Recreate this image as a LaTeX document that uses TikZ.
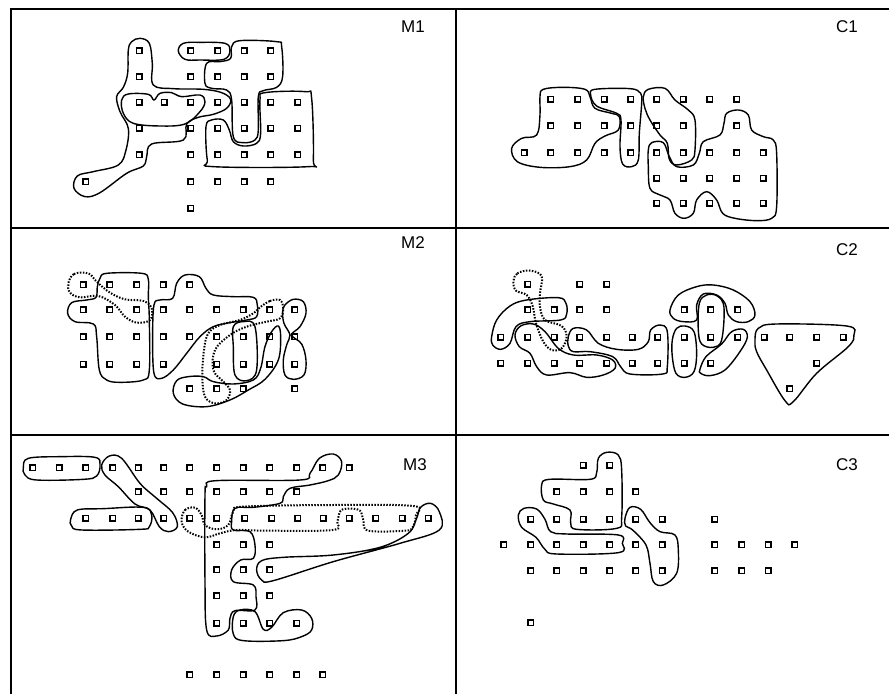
\documentclass[tikz,border=0pt]{standalone}
\usepackage{fontspec}
\setmainfont{Liberation Sans}
\usepackage{tikz}

\begin{document}
\begin{tikzpicture}[x=1pt, y=-1pt,
  frame/.style={line width=1.8pt},
  sq/.style={draw, line width=1.4pt, minimum size=5.6pt, inner sep=0pt},
  blob/.style={line width=1.4pt},
  dots/.style={line width=2pt, dash pattern=on 1.5pt off 1.5pt},
  lab/.style={font=\fontsize{17}{20}\selectfont}]
\useasboundingbox (0,0) rectangle (889,694);
% frame
\draw[frame] (11,694) -- (11,9) -- (889,9);
\draw[frame] (456,9) -- (456,694);
\draw[frame] (11,228) -- (889,228);
\draw[frame] (11,435) -- (889,435);
\node[lab] (m1) at (413,27) {M1};
\node[lab] (c1) at (847,27) {C1};
\node[lab] (m2) at (413,243) {M2};
\node[lab] (c2) at (847,250) {C2};
\node[lab] (m3) at (415,465) {M3};
\node[lab] (c3) at (847,465) {C3};

% M1
\begin{scope}[xshift=0pt, yshift=0pt, x=0.3333pt, y=-0.3333pt]
\foreach \y/\xs in {153/{418,573,653,733,813}, 230/{418,573,653,733,813},
    307/{418,493,573,653,733,813,893}, 385/{418,573,653,733,813,893},
    465/{418,573,653,733,813,893}, 545/{258,573,653,733,813}, 625/{573}}
  \foreach \x in \xs \node[sq] (m1-\x-\y) at (\x,\y) {};
\draw[blob] plot[smooth cycle, tension=0.6] coordinates {(385,150) (395,125) (420,115) (448,130) (457,190) (460,255) (520,266) (610,268) (665,278) (692,298) (680,325) (640,343) (595,352) (560,372) (550,420) (455,432) (440,470) (430,498) (380,520) (300,578) (255,590) (222,565) (232,528) (280,515) (355,495) (378,450) (385,385) (360,335) (350,290) (370,262) (383,220)};
\draw[blob] plot[smooth cycle, tension=0.6] coordinates {(365,300) (385,282) (445,283) (462,300) (480,280) (515,278) (545,290) (600,285) (615,305) (600,335) (555,372) (480,378) (400,370) (370,340)};
\draw[blob] plot[smooth cycle, tension=0.6] coordinates {(535,153) (550,130) (600,127) (675,130) (690,152) (672,178) (600,180) (555,178)};
\draw[blob] plot[smooth cycle, tension=0.6] coordinates {(620,190) (615,250) (635,265) (680,270) (695,300) (700,410) (730,428) (765,420) (775,390) (775,290) (790,272) (830,262) (848,230) (845,140) (830,125) (720,122) (695,140) (692,175) (660,185)};
\draw[blob] plot[smooth cycle, tension=0.6] coordinates {(780,300) (795,278) (915,275) (935,295) (940,480) (925,500) (640,500) (622,480) (618,380) (635,360) (670,360) (688,390) (700,425) (730,438) (770,430) (782,400)};
\end{scope}

% C1
\begin{scope}[xshift=430pt, yshift=0pt, x=0.3333pt, y=-0.3333pt]
\foreach \y/\xs in {298/{363,443,523,603,680,760,840,920}, 378/{363,443,523,603,680,760,920},
    458/{283,363,443,523,603,680,760,840,920,1000}, 535/{680,760,840,920,1000},
    610/{680,760,840,920,1000}}
  \foreach \x in \xs \node[sq] (c1-\x-\y) at (\x,\y) {};
\draw[blob] plot[smooth cycle, tension=0.6] coordinates {(330,290) (340,268) (400,262) (465,268) (480,290) (495,325) (545,340) (568,350) (565,390) (525,408) (495,430) (470,480) (420,500) (330,502) (262,485) (245,445) (275,415) (320,405) (330,345)};
\draw[blob] plot[smooth cycle, tension=0.6] coordinates {(482,285) (495,268) (600,266) (632,280) (635,310) (628,400) (625,480) (605,500) (578,492) (570,440) (573,360) (560,340) (500,318)};
\draw[blob] plot[smooth cycle, tension=0.6] coordinates {(640,290) (655,268) (705,265) (735,300) (775,330) (795,360) (795,450) (785,480) (740,495) (718,478) (712,430) (690,405) (660,360) (645,325)};
\draw[blob] plot[smooth cycle, tension=0.6] coordinates {(655,450) (665,428) (700,428) (718,470) (740,500) (790,495) (808,460) (820,425) (870,405) (882,370) (890,340) (925,330) (955,345) (965,390) (1000,410) (1030,420) (1040,460) (1040,620) (1025,655) (980,662) (915,655) (878,640) (860,600) (830,575) (800,600) (790,640) (762,655) (735,640) (720,600) (690,585) (660,565) (655,500)};
\end{scope}

% M2
\begin{scope}[xshift=0pt, yshift=-220pt, x=0.3333pt, y=-0.3333pt]
\foreach \y/\xs in {195/{250,330,410,490,570}, 270/{250,330,410,490,570,650,730,810,885},
    350/{250,330,410,490,570,650,730,810,885}, 433/{250,330,410,490,650,730,810,885},
    507/{570,650,730,885}}
  \foreach \x in \xs \node[sq] (m2-\x-\y) at (\x,\y) {};
\draw[blob] plot[smooth cycle, tension=0.6] coordinates {(300,175) (320,160) (425,160) (445,178) (445,230) (448,300) (448,450) (430,480) (360,487) (320,480) (298,450) (290,350) (280,312) (225,305) (203,280) (215,248) (260,240) (288,232) (292,200)};
\draw[blob] plot[smooth cycle, tension=0.6] coordinates {(462,255) (480,240) (518,235) (530,190) (555,165) (598,170) (618,205) (640,225) (700,230) (760,232) (772,255) (770,290) (740,300) (690,308) (640,320) (600,350) (560,400) (520,450) (485,475) (462,460) (458,350)};
\draw[blob] plot[smooth cycle, tension=0.6] coordinates {(700,320) (730,305) (765,320) (770,450) (740,482) (705,465) (700,380)};
\draw[blob] plot[smooth cycle, tension=0.6] coordinates {(520,520) (530,482) (565,470) (610,470) (640,485) (700,492) (760,480) (782,445) (795,380) (815,335) (835,318) (842,350) (835,420) (795,478) (745,510) (690,540) (620,560) (548,552)};
\draw[blob] plot[smooth cycle, tension=0.6] coordinates {(855,255) (880,238) (910,245) (918,280) (900,320) (875,345) (905,372) (918,420) (912,465) (880,478) (855,465) (850,420) (860,375) (870,345) (852,310) (848,275)};
\draw[dots] plot[smooth cycle, tension=0.6] coordinates {(205,190) (222,162) (265,160) (290,185) (330,218) (375,238) (430,243) (455,265) (450,300) (410,308) (375,290) (345,255) (295,228) (240,232) (210,218)};
\draw[dots] plot[smooth cycle, tension=0.6] coordinates {(780,262) (810,243) (840,240) (850,265) (840,295) (800,305) (740,320) (690,345) (645,390) (640,450) (670,485) (690,510) (680,540) (645,550) (615,530) (607,470) (612,390) (625,340) (660,315) (720,300) (760,280)};
\end{scope}

% C2
\begin{scope}[xshift=430pt, yshift=-220pt, x=0.3333pt, y=-0.3333pt]
\foreach \y/\xs in {193/{293,450,530}, 270/{293,373,450,530,763,843,923},
    352/{213,293,373,450,530,607,683,763,843,923,1003,1080,1160,1240},
    430/{213,293,373,450,530,607,683,763,843,1160}, 507/{1080}}
  \foreach \x in \xs \node[sq] (c2-\x-\y) at (\x,\y) {};
\draw[blob] plot[smooth cycle, tension=0.6] coordinates {(185,350) (200,300) (240,258) (290,240) (385,233) (408,250) (410,282) (392,300) (300,305) (258,320) (240,370) (212,388) (188,375)};
\draw[blob] plot[smooth cycle, tension=0.6] coordinates {(255,345) (272,318) (310,312) (345,335) (385,385) (430,405) (500,405) (548,420) (555,445) (520,465) (470,472) (420,458) (350,465) (320,440) (300,400) (268,380)};
\draw[blob] plot[smooth cycle, tension=0.6] coordinates {(415,350) (430,325) (470,330) (505,370) (560,388) (625,388) (655,365) (662,330) (690,315) (712,335) (712,440) (698,462) (600,462) (572,440) (548,410) (480,395) (430,395) (415,378)};
\draw[blob] plot[smooth cycle, tension=0.6] coordinates {(727,360) (740,325) (765,318) (792,335) (800,400) (792,455) (765,472) (738,460) (727,410)};
\draw[blob] plot[smooth cycle, tension=0.6] coordinates {(720,270) (745,225) (800,200) (850,195) (910,210) (960,245) (975,285) (955,305) (920,305) (895,285) (885,250) (860,225) (820,222) (800,255) (800,300) (760,305) (730,295)};
\draw[blob] plot[smooth cycle, tension=0.6] coordinates {(808,250) (830,225) (862,228) (882,262) (875,360) (850,382) (815,372) (805,330)};
\draw[blob] plot[smooth cycle, tension=0.6] coordinates {(810,448) (828,410) (875,372) (905,335) (940,328) (952,352) (930,395) (885,450) (840,467) (812,460)};
\draw[blob] plot[smooth cycle, tension=0.6] coordinates {(975,360) (985,325) (1040,312) (1250,318) (1272,345) (1255,380) (1160,460) (1090,545) (1065,542) (1010,450) (980,395)};
\draw[dots] plot[smooth cycle, tension=0.6] coordinates {(250,185) (262,160) (300,152) (335,168) (330,220) (330,260) (345,300) (395,318) (410,350) (395,385) (365,390) (340,365) (318,310) (308,258) (290,225) (258,212)};
\end{scope}

% M3
\begin{scope}[xshift=0pt, yshift=-430pt, x=0.3333pt, y=-0.3333pt]
\foreach \y/\xs in {113/{98,178,258,338,415,492,570,650,730,810,890,968,1048},
    185/{415,492,570,650,730,810,890},
    265/{258,338,415,492,570,650,735,815,893,970,1048,1127,1207,1285},
    345/{650,730,810}, 420/{650,730,810}, 497/{650,730,810}, 580/{650,730,810,890},
    735/{570,650,730,810,890,968}}
  \foreach \x in \xs \node[sq] (m3-\x-\y) at (\x,\y) {};
\draw[blob] plot[smooth cycle, tension=0.6] coordinates {(70,112) (85,85) (180,80) (285,82) (300,105) (290,138) (250,148) (110,150) (75,135)};
\draw[blob] plot[smooth cycle, tension=0.6] coordinates {(305,105) (328,78) (365,85) (420,160) (470,205) (518,248) (532,290) (505,305) (478,290) (450,240) (405,222) (355,170) (315,135)};
\draw[blob] plot[smooth cycle, tension=0.6] coordinates {(212,268) (232,240) (310,236) (430,232) (455,255) (448,290) (420,298) (245,300) (215,288)};
\draw[blob] plot[smooth cycle, tension=0.6] coordinates {(620,170) (648,152) (900,150) (930,130) (958,85) (1000,72) (1025,95) (1015,135) (985,152) (930,165) (870,175) (850,200) (840,220) (760,232) (705,235) (695,275) (700,300) (750,305) (765,345) (760,385) (722,390) (695,420) (700,455) (760,465) (768,500) (765,540) (705,542) (690,565) (685,600) (650,618) (620,600) (615,450) (615,200)};
\draw[blob] plot[smooth cycle, tension=0.6] coordinates {(1250,265) (1262,232) (1292,220) (1318,245) (1318,300) (1200,340) (1000,395) (820,452) (785,450) (770,420) (785,392) (850,382) (1000,375) (1140,352) (1225,310)};
\draw[blob] plot[smooth cycle, tension=0.6] coordinates {(700,560) (720,540) (765,545) (790,598) (815,592) (850,548) (905,540) (935,565) (935,600) (905,620) (850,632) (730,632) (700,612)};
\draw[dots] plot[smooth cycle, tension=0.6] coordinates {(545,275) (555,240) (585,233) (605,255) (615,285) (650,298) (685,285) (700,245) (730,230) (1000,225) (1240,228) (1248,255) (1238,292) (1215,302) (1105,302) (1090,270) (1080,242) (1050,236) (1022,242) (1012,275) (998,300) (800,302) (710,300) (660,310) (615,322) (565,305)};
\end{scope}

% C3
\begin{scope}[xshift=430pt, yshift=-430pt, x=0.3333pt, y=-0.3333pt]
\foreach \y/\xs in {105/{460,540}, 185/{380,460,540,617},
    268/{302,380,460,540,617,697,855},
    345/{222,302,380,460,540,617,697,855,935,1015,1095},
    422/{302,380,460,540,617,697,855,935,1015}, 578/{302}}
  \foreach \x in \xs \node[sq] (c3-\x-\y) at (\x,\y) {};
\draw[blob] plot[smooth cycle, tension=0.6] coordinates {(335,165) (358,148) (480,148) (500,128) (505,85) (530,67) (565,75) (575,120) (575,262) (560,295) (440,298) (422,278) (420,240) (370,222) (340,210)};
\draw[blob] plot[smooth cycle, tension=0.6] coordinates {(265,255) (282,235) (320,237) (345,268) (362,305) (410,312) (565,315) (577,340) (565,368) (380,372) (345,358) (318,322) (275,292)};
\draw[blob] plot[smooth cycle, tension=0.6] coordinates {(585,265) (600,232) (632,238) (660,278) (690,305) (735,315) (745,360) (740,430) (700,465) (670,455) (660,400) (648,345) (608,300) (587,288)};
\end{scope}
\end{tikzpicture}
\end{document}
